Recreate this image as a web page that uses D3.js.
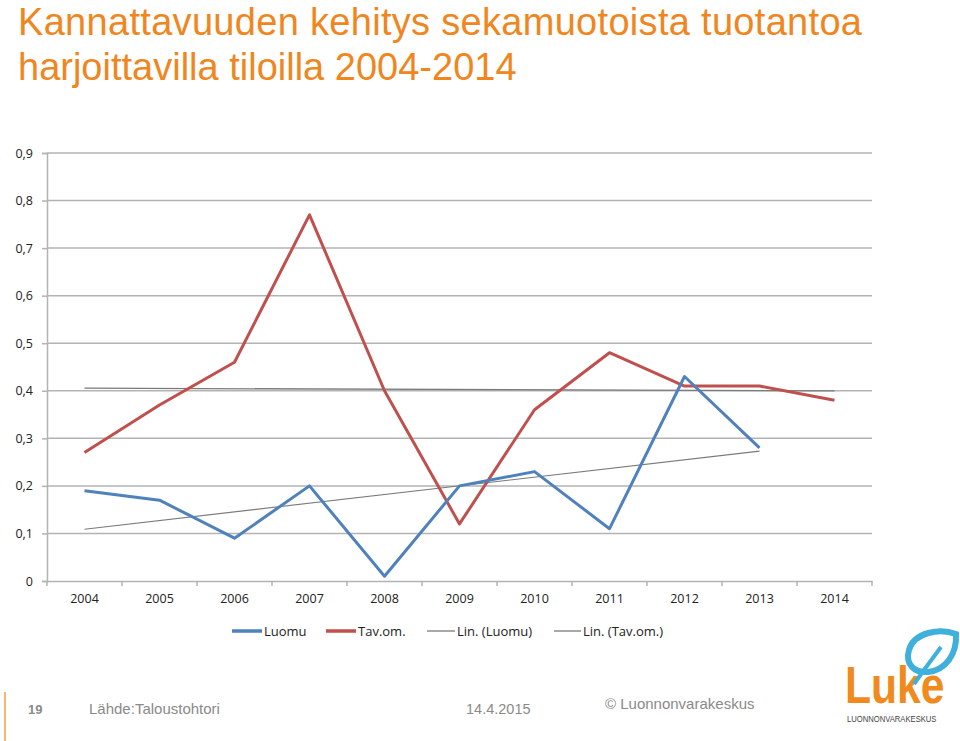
<!DOCTYPE html>
<html><head><meta charset="utf-8">
<script src="https://cdn.jsdelivr.net/npm/d3@7"></script>
<style>
body{margin:0;background:#fff;}
svg{display:block;}
</style></head>
<body>
<svg id="c" width="960" height="741"></svg>
<script>
const years = ["2004","2005","2006","2007","2008","2009","2010","2011","2012","2013","2014"];
const luomu = [0.19,0.17,0.09,0.20,0.01,0.20,0.23,0.11,0.43,0.28,null];
const tavom = [0.27,0.37,0.46,0.77,0.40,0.12,0.36,0.48,0.41,0.41,0.38];
const yTicks = [0,0.1,0.2,0.3,0.4,0.5,0.6,0.7,0.8,0.9];
const seriesNames = ["Luomu","Tav.om.","Lin. (Luomu)","Lin. (Tav.om.)"];
const titleLines = ["Kannattavuuden kehitys sekamuotoista tuotantoa","harjoittavilla tiloilla 2004-2014"];

const svg = d3.select("#c");
const chartFont = "'Open Sans',sans-serif";

// Title
svg.selectAll("text.title").data(titleLines).join("text")
  .attr("class","title")
  .attr("x",18).attr("y",(d,i)=>34.5+i*45)
  .attr("font-family","'Liberation Sans',Arial,sans-serif")
  .attr("font-size",38).attr("fill","#f0861e")
  .attr("textLength",(d,i)=>i===0?844:null)
  .text(d=>d);

const L=47, R=872, T=153, B=581;
const x = d3.scaleBand().domain(years).range([L,R]);
const y = d3.scaleLinear().domain([0,0.9]).range([B,T]);
const cx = d => x(d)+x.bandwidth()/2;

// gridlines
svg.append("g").selectAll("line").data(yTicks.filter(v=>v>0)).join("line")
  .attr("x1",L).attr("x2",R).attr("y1",d=>y(d)).attr("y2",d=>y(d))
  .attr("stroke","#b3b3b3").attr("stroke-width",1.5);

// y axis
const yAxis = d3.axisLeft(y).tickValues(yTicks).tickSize(5).tickPadding(9)
  .tickFormat(d=> d===0 ? "0" : d3.format(".1f")(d).replace(".",","));
const gy = svg.append("g").attr("transform",`translate(${L},0)`).call(yAxis);
gy.select(".domain").attr("stroke","#b3b3b3").attr("stroke-width",1.5);
gy.selectAll(".tick line").attr("stroke","#b3b3b3").attr("stroke-width",1.5);
gy.selectAll(".tick text").attr("font-family",chartFont).attr("font-size",12.5).attr("fill","#222");

// x axis
const xAxis = d3.axisBottom(x).tickSize(0).tickPadding(13);
const gx = svg.append("g").attr("transform",`translate(0,${B})`).call(xAxis);
gx.select(".domain").attr("stroke","#b3b3b3").attr("stroke-width",1.5);
gx.selectAll(".tick text").attr("font-family",chartFont).attr("font-size",12.5).attr("fill","#222");
const bounds = years.map(d=>x(d)).concat([R]);
gx.append("g").selectAll("line").data(bounds).join("line")
  .attr("x1",d=>d).attr("x2",d=>d).attr("y1",0).attr("y2",5)
  .attr("stroke","#b3b3b3").attr("stroke-width",1.5);

// linear trend
function trend(vals){
  const pts = vals.map((v,i)=>[i,v]).filter(p=>p[1]!=null);
  const n=pts.length, mx=d3.mean(pts,p=>p[0]), my=d3.mean(pts,p=>p[1]);
  const sxy=d3.sum(pts,p=>(p[0]-mx)*(p[1]-my)), sxx=d3.sum(pts,p=>(p[0]-mx)**2);
  const b=sxy/sxx, a=my-b*mx;
  const i0=pts[0][0], i1=pts[n-1][0];
  return [[i0,a+b*i0],[i1,a+b*i1]];
}
const tl = d3.line().x(p=>cx(years[p[0]])).y(p=>y(p[1]));
svg.append("path").attr("d",tl(trend(tavom))).attr("fill","none").attr("stroke","#7a7a7a").attr("stroke-width",1.3);
svg.append("path").attr("d",tl(trend(luomu))).attr("fill","none").attr("stroke","#7a7a7a").attr("stroke-width",1.1);

// series lines
const line = d3.line().defined(d=>d.v!=null).x(d=>cx(d.k)).y(d=>y(d.v));
svg.append("path").datum(years.map((k,i)=>({k,v:tavom[i]})))
  .attr("d",line).attr("fill","none").attr("stroke","#c0504d").attr("stroke-width",3).attr("stroke-linejoin","round");
svg.append("path").datum(years.map((k,i)=>({k,v:luomu[i]})))
  .attr("d",line).attr("fill","none").attr("stroke","#4f81bd").attr("stroke-width",3).attr("stroke-linejoin","round");

// legend
const legItems = [
  {n:seriesNames[0],c:"#4f81bd",w:3.5,x:232,len:30},
  {n:seriesNames[1],c:"#c0504d",w:3.5,x:326,len:30},
  {n:seriesNames[2],c:"#7a7a7a",w:1.3,x:427,len:28},
  {n:seriesNames[3],c:"#7a7a7a",w:1.3,x:554,len:27}
];
const lg = svg.append("g");
legItems.forEach(d=>{
  lg.append("line").attr("x1",d.x).attr("x2",d.x+d.len).attr("y1",631).attr("y2",631)
    .attr("stroke",d.c).attr("stroke-width",d.w);
  lg.append("text").attr("x",d.x+d.len+2).attr("y",636)
    .attr("font-family",chartFont).attr("font-size",13).attr("fill","#222").text(d.n);
});

// footer
svg.append("line").attr("x1",5).attr("x2",5).attr("y1",692).attr("y2",741).attr("stroke","#f0a040").attr("stroke-width",1.5);
const ff="'Liberation Sans',Arial,sans-serif";
svg.append("text").attr("x",28).attr("y",714).attr("font-family",ff).attr("font-size",13).attr("font-weight","bold").attr("fill","#8a8a8a").text("19");
svg.append("text").attr("x",89).attr("y",714).attr("font-family",ff).attr("font-size",15).attr("fill","#8a8a8a").text("Lähde:Taloustohtori");
svg.append("text").attr("x",466).attr("y",714).attr("font-family",ff).attr("font-size",14.5).attr("fill","#8a8a8a").text("14.4.2015");
svg.append("text").attr("x",605).attr("y",709).attr("font-family",ff).attr("font-size",15).attr("fill","#8a8a8a").text("© Luonnonvarakeskus");

// logo
const logo = svg.append("g");
logo.append("g").attr("transform","translate(845,703) scale(0.82,1)")
  .append("text").attr("x",0).attr("y",0).attr("font-family","'Liberation Sans',Arial,sans-serif")
  .attr("font-size",52).attr("font-weight","bold").attr("fill","#f08a1e").text("Luke");
logo.append("path")
  .attr("d","M956,634 C940,628 914,632 909,650 C905,664 914,673 928,672 C946,670 957,654 956,634 Z")
  .attr("fill","none").attr("stroke","#3fb0dc").attr("stroke-width",6);
logo.append("path").attr("d","M914,684 L924,670 L941,647").attr("fill","none").attr("stroke","#3fb0dc").attr("stroke-width",4);
logo.append("g").attr("transform","translate(847,722) scale(0.85,1)")
  .append("text").attr("x",0).attr("y",0).attr("font-family","'Liberation Sans',Arial,sans-serif")
  .attr("font-size",9).attr("fill","#444").text("LUONNONVARAKESKUS");
</script>
</body></html>
